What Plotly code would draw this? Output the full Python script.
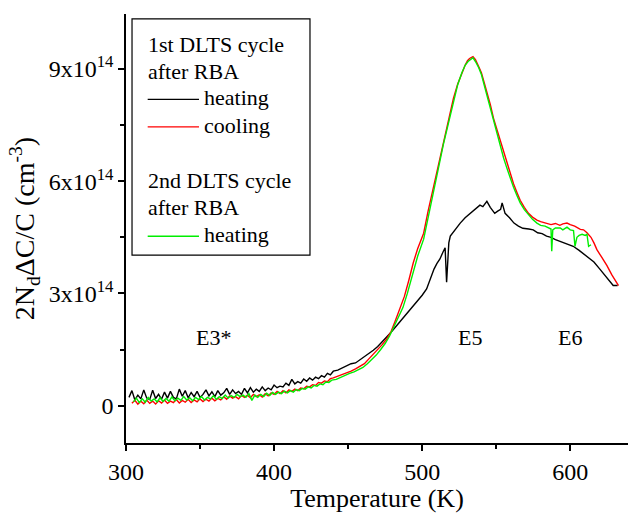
import plotly.graph_objects as go

# ---------------- data (values in units of 1e14 cm^-3) ----------------
T_heat1 = [302, 304, 306, 308, 310, 312, 314, 316, 318, 320,
           322, 324, 326, 328, 330, 332, 334, 336, 338, 340,
           342, 344, 346, 348, 350, 352, 354, 356, 358, 360,
           362, 364, 366, 368, 370, 372, 374, 376, 378, 380,
           382, 384, 386, 388, 390, 392, 394, 396, 398, 400,
           402, 404, 406, 408, 410, 412, 414, 416, 418, 420,
           422, 424, 426, 428, 430, 432, 434, 436, 438, 440,
           443, 446, 449, 452, 455, 458, 461, 464, 467, 470,
           473, 476, 479, 482, 485, 488, 491, 494, 497, 500,
           503, 506, 508, 510, 512, 514, 515.5, 516.5, 518, 519,
           522, 525.7, 529, 532.4, 536, 539, 541, 543.7, 546, 549,
           551, 553, 554, 556, 559, 562, 565, 568, 572, 575,
           578, 581, 584, 587, 590, 593, 597, 602, 606, 611,
           616, 620, 625, 629, 632]
V_heat1 = [0.22, 0.40, 0.15, 0.28, 0.18, 0.42, 0.20, 0.16, 0.41, 0.19,
           0.30, 0.17, 0.36, 0.20, 0.38, 0.22, 0.18, 0.44, 0.25, 0.40,
           0.21, 0.35, 0.24, 0.38, 0.22, 0.30, 0.42, 0.26, 0.37, 0.24,
           0.40, 0.28, 0.34, 0.46, 0.30, 0.42, 0.32, 0.38, 0.30, 0.46,
           0.34, 0.48, 0.36, 0.44, 0.38, 0.50, 0.40, 0.47, 0.42, 0.55,
           0.48, 0.52, 0.50, 0.60, 0.54, 0.70, 0.58, 0.64, 0.60, 0.71,
           0.65, 0.74, 0.68, 0.76, 0.72, 0.80, 0.76, 0.86, 0.82, 0.92,
           0.95, 1.00, 1.05, 1.12, 1.14, 1.22, 1.30, 1.38, 1.48, 1.58,
           1.70, 1.84, 1.96, 2.10, 2.24, 2.38, 2.52, 2.64, 2.80, 2.95,
           3.12, 3.45, 3.65, 3.80, 3.92, 4.10, 4.22, 3.30, 4.35, 4.53,
           4.70, 4.88, 5.02, 5.14, 5.28, 5.36, 5.32, 5.46, 5.30, 5.14,
           5.20, 5.25, 5.42, 5.14, 5.02, 4.88, 4.80, 4.74, 4.72, 4.70,
           4.62, 4.60, 4.53, 4.50, 4.44, 4.40, 4.33, 4.26, 4.15, 4.00,
           3.84, 3.65, 3.42, 3.21, 3.21]

T_cool1 = [304, 306, 308, 310, 312, 314, 316, 318, 320, 322,
           324, 326, 328, 330, 332, 334, 336, 338, 340, 342,
           344, 346, 348, 350, 352, 354, 356, 358, 360, 362,
           364, 366, 368, 370, 372, 374, 376, 378, 380, 382,
           384, 386, 388, 390, 392, 394, 396, 398, 400, 402,
           404, 406, 408, 410, 412, 414, 416, 418, 420, 422,
           424, 426, 428, 430, 432, 434, 436, 438, 440,
           443, 446, 449, 452, 455, 458, 461, 464, 467, 470,
           473, 476, 479, 482, 485, 488, 491, 494, 497, 501,
           504, 507.6, 511, 514.4, 518, 521.1, 524, 526.8, 529, 530.6,
           532, 534.3, 536, 538, 540, 542, 543.7, 546, 548.2, 550.5,
           552.7, 555, 557.2, 559.5, 561.7, 564, 566.2, 569, 571.8, 574.5,
           577.5, 580, 582, 584.3, 587, 590, 593, 595, 597.8, 600,
           603, 606.8, 609, 611.3, 614, 616, 618, 621, 624.8, 628,
           631.6, 632.6]
V_cool1 = [0.06, 0.14, 0.04, 0.12, 0.05, 0.15, 0.06, 0.12, 0.04, 0.13,
           0.07, 0.15, 0.06, 0.12, 0.08, 0.16, 0.07, 0.14, 0.09, 0.17,
           0.08, 0.15, 0.10, 0.18, 0.11, 0.17, 0.12, 0.20, 0.13, 0.19,
           0.15, 0.24, 0.17, 0.26, 0.20, 0.24, 0.18, 0.27, 0.22, 0.28,
           0.21, 0.30, 0.24, 0.29, 0.23, 0.32, 0.26, 0.34, 0.30, 0.38,
           0.32, 0.40, 0.34, 0.42, 0.38, 0.44, 0.40, 0.47, 0.45, 0.52,
           0.50, 0.56, 0.54, 0.62, 0.60, 0.66, 0.64, 0.72, 0.74,
           0.78, 0.82, 0.86, 0.92, 0.98, 1.05, 1.12, 1.25, 1.37, 1.50,
           1.63, 1.78, 1.98, 2.28, 2.60, 2.92, 3.35, 3.82, 4.20, 4.61,
           5.20, 5.84, 6.45, 7.07, 7.65, 8.21, 8.60, 8.91, 9.10, 9.22,
           9.28, 9.33, 9.25, 9.08, 8.90, 8.62, 8.39, 8.05, 7.68, 7.38,
           7.08, 6.75, 6.46, 6.18, 5.93, 5.70, 5.49, 5.30, 5.14, 5.04,
           4.96, 4.92, 4.90, 4.88, 4.84, 4.87, 4.82, 4.86, 4.88, 4.84,
           4.80, 4.71, 4.70, 4.62, 4.50, 4.35, 4.17, 3.98, 3.74, 3.50,
           3.26, 3.21]

T_heat2 = [305, 307, 309, 311, 313, 315, 317, 319, 321, 323,
           325, 327, 329, 331, 333, 335, 337, 339, 341, 343,
           345, 347, 349, 351, 353, 355, 357, 359, 361, 363,
           365, 367, 369, 371, 373, 375, 377, 379, 381, 383,
           385, 387, 389, 391, 393, 395, 397, 399, 401, 403,
           405, 407, 409, 411, 413, 415, 417, 419, 421, 423,
           425, 427, 429, 431, 433, 435, 437, 439,
           442, 445, 448, 451, 454, 457, 460, 463, 466, 469,
           472, 475, 478, 481, 484, 487, 490, 494, 497, 501,
           504, 507.6, 511, 514.4, 518, 521.1, 524, 526.8, 529, 531,
           533, 534.3, 536, 538, 540, 542, 543.7, 546, 548.2, 550.5,
           552.7, 555, 557.2, 559.5, 561.7, 564, 566.2, 569, 571.8, 574.5,
           577.5, 580, 583, 585, 587, 587.5, 588.2, 590, 593.2, 595,
           597.8, 600, 602.2, 603.2, 604.5, 606, 608, 610.1, 611.3, 612.4,
           614]
V_heat2 = [0.10, 0.20, 0.08, 0.18, 0.09, 0.22, 0.12, 0.18, 0.10, 0.21,
           0.11, 0.19, 0.12, 0.23, 0.13, 0.20, 0.14, 0.24, 0.15, 0.21,
           0.13, 0.22, 0.16, 0.24, 0.15, 0.22, 0.18, 0.26, 0.17, 0.24,
           0.19, 0.28, 0.20, 0.27, 0.22, 0.30, 0.24, 0.28, 0.22, 0.32,
           0.14, 0.28, 0.22, 0.30, 0.24, 0.33, 0.27, 0.35, 0.30, 0.36,
           0.32, 0.39, 0.34, 0.40, 0.36, 0.43, 0.40, 0.46, 0.44, 0.50,
           0.47, 0.54, 0.52, 0.58, 0.56, 0.63, 0.62, 0.68,
           0.70, 0.76, 0.80, 0.86, 0.90, 0.96, 1.02, 1.12, 1.24, 1.35,
           1.50, 1.66, 1.86, 2.10, 2.38, 2.62, 3.00, 3.56, 4.00, 4.45,
           5.05, 5.70, 6.35, 7.00, 7.62, 8.15, 8.58, 8.90, 9.10, 9.20,
           9.25, 9.30, 9.20, 9.05, 8.85, 8.55, 8.30, 7.95, 7.58, 7.25,
           6.95, 6.62, 6.35, 6.08, 5.84, 5.62, 5.42, 5.24, 5.10, 4.98,
           4.88, 4.82, 4.80, 4.76, 4.72, 4.13, 4.70, 4.75, 4.75, 4.70,
           4.77, 4.70, 4.68, 4.26, 4.50, 4.55, 4.58, 4.55, 4.58, 4.26,
           4.30]

SCALE = 1e14
peak_labels = ["E3*", "E5", "E6"]
peak_label_T = [359, 532, 600]
peak_label_V = [1.82, 1.82, 1.82]

y_tickvals = [0, 3, 6, 9]
y_ticktext = ["0", "3x10<sup>14</sup>", "6x10<sup>14</sup>", "9x10<sup>14</sup>"]
x_tickvals = [300, 400, 500, 600]

FONT = "Liberation Serif"
X_RANGE = [300, 639]
Y_RANGE = [-1.0 * SCALE, 10.47 * SCALE]

fig = go.Figure()
fig.add_trace(go.Scatter(x=T_heat1, y=[v * SCALE for v in V_heat1], mode="lines",
                         name="heating", line=dict(color="#000000", width=1.4)))
fig.add_trace(go.Scatter(x=T_cool1, y=[v * SCALE for v in V_cool1], mode="lines",
                         name="cooling", line=dict(color="#ff0000", width=1.4)))
fig.add_trace(go.Scatter(x=T_heat2, y=[v * SCALE for v in V_heat2], mode="lines",
                         name="heating (2nd)", line=dict(color="#00ee00", width=1.4)))

for lab, t, v in zip(peak_labels, peak_label_T, peak_label_V):
    fig.add_annotation(x=t, y=v * SCALE, text=lab, showarrow=False,
                       font=dict(family=FONT, size=22, color="black"),
                       xanchor="center", yanchor="middle")

# ------------- manual legend (paper coordinates) -------------
fig.add_shape(type="rect", xref="paper", yref="paper",
              x0=0.012, x1=0.3665, y0=0.438, y1=0.9885,
              line=dict(color="black", width=1.2), fillcolor="rgba(0,0,0,0)")
leg_font = dict(family=FONT, size=22, color="black")
text_lines = [("1st DLTS cycle", 0.929), ("after RBA", 0.867),
              ("2nd DLTS cycle", 0.612), ("after RBA", 0.548)]
for txt, yy in text_lines:
    fig.add_annotation(xref="paper", yref="paper", x=0.040, y=yy, text=txt,
                       showarrow=False, xanchor="left", yanchor="middle", font=leg_font)
items = [("heating", "#000000", 0.805), ("cooling", "#ff0000", 0.741),
         ("heating", "#00ee00", 0.486)]
for txt, col, yy in items:
    fig.add_shape(type="line", xref="paper", yref="paper", x0=0.0432, x1=0.1454,
                  y0=yy - 0.004, y1=yy - 0.004, line=dict(color=col, width=1.4))
    fig.add_annotation(xref="paper", yref="paper", x=0.151, y=yy, text=txt,
                       showarrow=False, xanchor="left", yanchor="middle", font=leg_font)

axis_common = dict(showline=True, linecolor="black", linewidth=1.5,
                   showgrid=False, zeroline=False)

fig.update_layout(
    width=629, height=513,
    margin=dict(l=126, r=1, t=14, b=63),
    paper_bgcolor="white", plot_bgcolor="white",
    showlegend=False,
    font=dict(family=FONT, color="black"),
    xaxis=dict(range=X_RANGE, tickvals=x_tickvals, ticks="outside", ticklen=6,
               tickwidth=1.5, tickcolor="black",
               minor=dict(tickvals=[350, 450, 550], ticks="outside", ticklen=4,
                          tickwidth=1.5, tickcolor="black"),
               tickfont=dict(family=FONT, size=24),
               ticklabelstandoff=0,
               title=dict(text="Temperature (K)", font=dict(family=FONT, size=26),
                          standoff=9),
               **axis_common),
    yaxis=dict(range=Y_RANGE, tickvals=[v * SCALE for v in y_tickvals],
               ticktext=y_ticktext, ticks="outside", ticklen=6, tickwidth=1.5,
               tickcolor="black",
               minor=dict(tickvals=[-1.5 * SCALE, 1.5 * SCALE, 4.5 * SCALE, 7.5 * SCALE],
                          ticks="outside", ticklen=4, tickwidth=1.5, tickcolor="black"),
               tickfont=dict(family=FONT, size=24),
               title=dict(text="2N<sub>d</sub>ΔC/C (cm<sup>-3</sup>)",
                          font=dict(family=FONT, size=28), standoff=6),
               **axis_common),
    xaxis2=dict(range=X_RANGE, overlaying="x", side="top", anchor="y",
                tickvals=x_tickvals, ticks="inside", ticklen=6, tickwidth=1.5,
                tickcolor="black", showticklabels=False,
                minor=dict(tickvals=[350, 450, 550], ticks="inside", ticklen=4,
                           tickwidth=1.5, tickcolor="black"),
                **axis_common),
    yaxis2=dict(range=Y_RANGE, overlaying="y", side="right", anchor="x",
                tickvals=[v * SCALE for v in y_tickvals], ticks="inside", ticklen=6,
                tickwidth=1.5, tickcolor="black", showticklabels=False,
                minor=dict(tickvals=[-1.5 * SCALE, 1.5 * SCALE, 4.5 * SCALE, 7.5 * SCALE],
                           ticks="inside", ticklen=4, tickwidth=1.5, tickcolor="black"),
                **axis_common),
)

fig.write_html("out.html")
